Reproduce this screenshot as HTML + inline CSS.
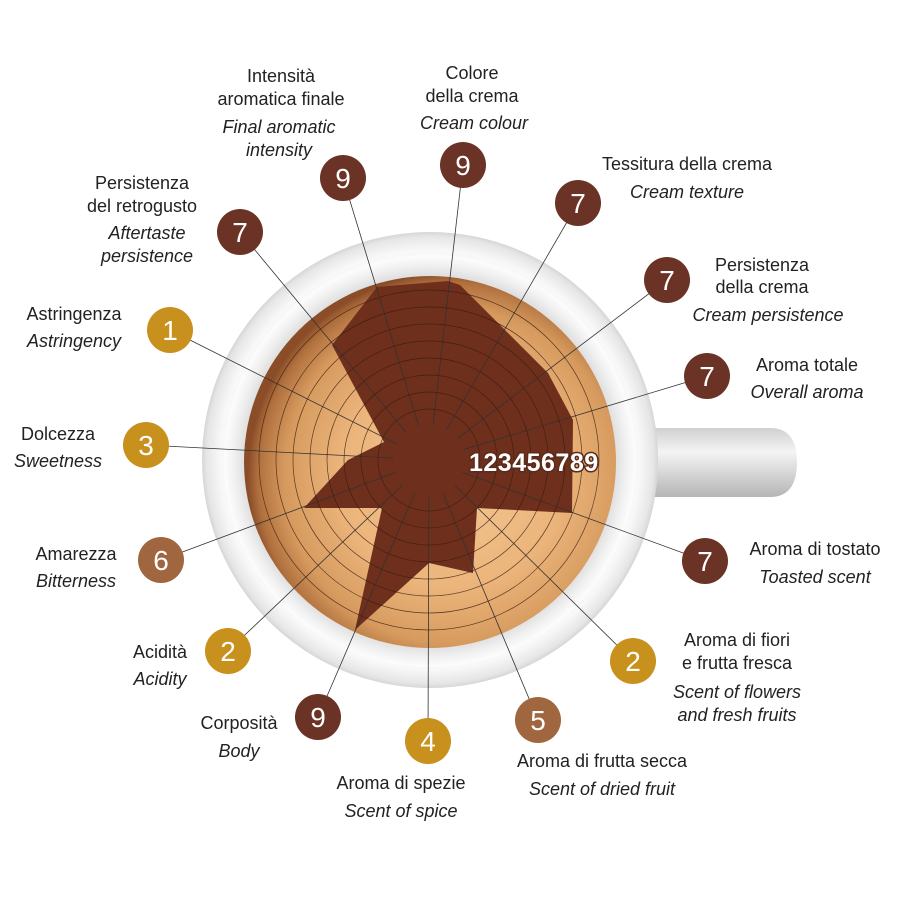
<!DOCTYPE html>
<html><head><meta charset="utf-8"><style>html,body{margin:0;padding:0;background:#fff}svg{display:block}</style></head>
<body>
<svg width="900" height="900" viewBox="0 0 900 900" xmlns="http://www.w3.org/2000/svg" font-family="Liberation Sans, sans-serif">
<defs>
<linearGradient id="hd" x1="0" y1="0" x2="0" y2="1"><stop offset="0" stop-color="#d0d0d0"/><stop offset="0.35" stop-color="#f4f4f4"/><stop offset="1" stop-color="#b5b5b5"/></linearGradient>
<radialGradient id="cup" cx="0.5" cy="0.5" r="0.5"><stop offset="0.92" stop-color="#f8f8f8"/><stop offset="0.98" stop-color="#e6e6e6"/><stop offset="1" stop-color="#d6d6d6"/></radialGradient>
<radialGradient id="inner" cx="0.5" cy="0.5" r="0.5"><stop offset="0.88" stop-color="#d8d8d8"/><stop offset="0.95" stop-color="#f0f0f0"/><stop offset="1" stop-color="#fdfdfd"/></radialGradient>
<radialGradient id="crema" cx="0.56" cy="0.54" r="0.55"><stop offset="0" stop-color="#f3c894"/><stop offset="0.55" stop-color="#ebb47a"/><stop offset="0.82" stop-color="#d69a5e"/><stop offset="0.95" stop-color="#b0703e"/><stop offset="1" stop-color="#8a4d28"/></radialGradient>
</defs>
<rect width="900" height="900" fill="#fff"/>
<path d="M640 428 H770 Q797 428 797 462 Q797 497 770 497 H640 Z" fill="url(#hd)"/>
<circle cx="430" cy="460" r="228" fill="url(#cup)"/>
<circle cx="430" cy="461" r="206" fill="url(#inner)"/>
<circle cx="430" cy="462" r="186" fill="url(#crema)"/>
<polygon points="377,287 448,281 460,285 548,373 573,420 572,513 477,508 473,573 429,563 355,630 382,508 304,508 348,460 384,442 332,345" fill="#6e2f1c"/>
<g stroke="#333" stroke-width="0.8">
<line x1="429" y1="460" x2="343" y2="178"/><line x1="429" y1="460" x2="463" y2="165"/><line x1="429" y1="460" x2="578" y2="203"/><line x1="429" y1="460" x2="667" y2="280"/><line x1="429" y1="460" x2="707" y2="376"/><line x1="429" y1="460" x2="705" y2="561"/><line x1="429" y1="460" x2="633" y2="661"/><line x1="429" y1="460" x2="538" y2="720"/><line x1="429" y1="460" x2="428" y2="741"/><line x1="429" y1="460" x2="318" y2="717"/><line x1="429" y1="460" x2="228" y2="651"/><line x1="429" y1="460" x2="161" y2="560"/><line x1="429" y1="460" x2="146" y2="445"/><line x1="429" y1="460" x2="170" y2="330"/><line x1="429" y1="460" x2="240" y2="232"/>
</g>
<circle cx="429" cy="460" r="36" fill="#6e2f1c"/>
<g fill="none" stroke="#3a1c10" stroke-width="0.7" opacity="0.8">
<circle cx="429" cy="460" r="51"/><circle cx="429" cy="460" r="68"/><circle cx="429" cy="460" r="85"/><circle cx="429" cy="460" r="102"/><circle cx="429" cy="460" r="119"/><circle cx="429" cy="460" r="136"/><circle cx="429" cy="460" r="153"/><circle cx="429" cy="460" r="170"/>
</g>
<text x="469" y="471" font-size="25" font-weight="bold" fill="#fff" stroke="#5a2a1a" stroke-width="3" paint-order="stroke" letter-spacing="0.5">123456789</text>
<g font-size="28" fill="#fff" text-anchor="middle">
<circle cx="343" cy="178" r="23" fill="#6b3326"/><text x="343" y="188">9</text>
<circle cx="463" cy="165" r="23" fill="#6b3326"/><text x="463" y="175">9</text>
<circle cx="578" cy="203" r="23" fill="#6b3326"/><text x="578" y="213">7</text>
<circle cx="667" cy="280" r="23" fill="#6b3326"/><text x="667" y="290">7</text>
<circle cx="707" cy="376" r="23" fill="#6b3326"/><text x="707" y="386">7</text>
<circle cx="705" cy="561" r="23" fill="#6b3326"/><text x="705" y="571">7</text>
<circle cx="633" cy="661" r="23" fill="#c8901c"/><text x="633" y="671">2</text>
<circle cx="538" cy="720" r="23" fill="#a0663f"/><text x="538" y="730">5</text>
<circle cx="428" cy="741" r="23" fill="#c8901c"/><text x="428" y="751">4</text>
<circle cx="318" cy="717" r="23" fill="#6b3326"/><text x="318" y="727">9</text>
<circle cx="228" cy="651" r="23" fill="#c8901c"/><text x="228" y="661">2</text>
<circle cx="161" cy="560" r="23" fill="#a0663f"/><text x="161" y="570">6</text>
<circle cx="146" cy="445" r="23" fill="#c8901c"/><text x="146" y="455">3</text>
<circle cx="170" cy="330" r="23" fill="#c8901c"/><text x="170" y="340">1</text>
<circle cx="240" cy="232" r="23" fill="#6b3326"/><text x="240" y="242">7</text>
</g>
<g font-size="18" fill="#222" text-anchor="middle">
<text x="281" y="82">Intensità</text><text x="281" y="105">aromatica finale</text>
<text x="279" y="133" font-style="italic">Final aromatic</text><text x="279" y="156" font-style="italic">intensity</text>
<text x="472" y="79">Colore</text><text x="472" y="102">della crema</text><text x="474" y="129" font-style="italic">Cream colour</text>
<text x="687" y="170">Tessitura della crema</text><text x="687" y="198" font-style="italic">Cream texture</text>
<text x="762" y="271">Persistenza</text><text x="762" y="293">della crema</text><text x="768" y="321" font-style="italic">Cream persistence</text>
<text x="807" y="371">Aroma totale</text><text x="807" y="398" font-style="italic">Overall aroma</text>
<text x="815" y="555">Aroma di tostato</text><text x="815" y="583" font-style="italic">Toasted scent</text>
<text x="737" y="646">Aroma di fiori</text><text x="737" y="669">e frutta fresca</text>
<text x="737" y="698" font-style="italic">Scent of flowers</text><text x="737" y="721" font-style="italic">and fresh fruits</text>
<text x="602" y="767">Aroma di frutta secca</text><text x="602" y="795" font-style="italic">Scent of dried fruit</text>
<text x="401" y="789">Aroma di spezie</text><text x="401" y="817" font-style="italic">Scent of spice</text>
<text x="239" y="729">Corposità</text><text x="239" y="757" font-style="italic">Body</text>
<text x="160" y="658">Acidità</text><text x="160" y="685" font-style="italic">Acidity</text>
<text x="76" y="560">Amarezza</text><text x="76" y="587" font-style="italic">Bitterness</text>
<text x="58" y="440">Dolcezza</text><text x="58" y="467" font-style="italic">Sweetness</text>
<text x="74" y="320">Astringenza</text><text x="74" y="347" font-style="italic">Astringency</text>
<text x="142" y="189">Persistenza</text><text x="142" y="212">del retrogusto</text>
<text x="147" y="239" font-style="italic">Aftertaste</text><text x="147" y="262" font-style="italic">persistence</text>
</g>
</svg>
</body></html>
